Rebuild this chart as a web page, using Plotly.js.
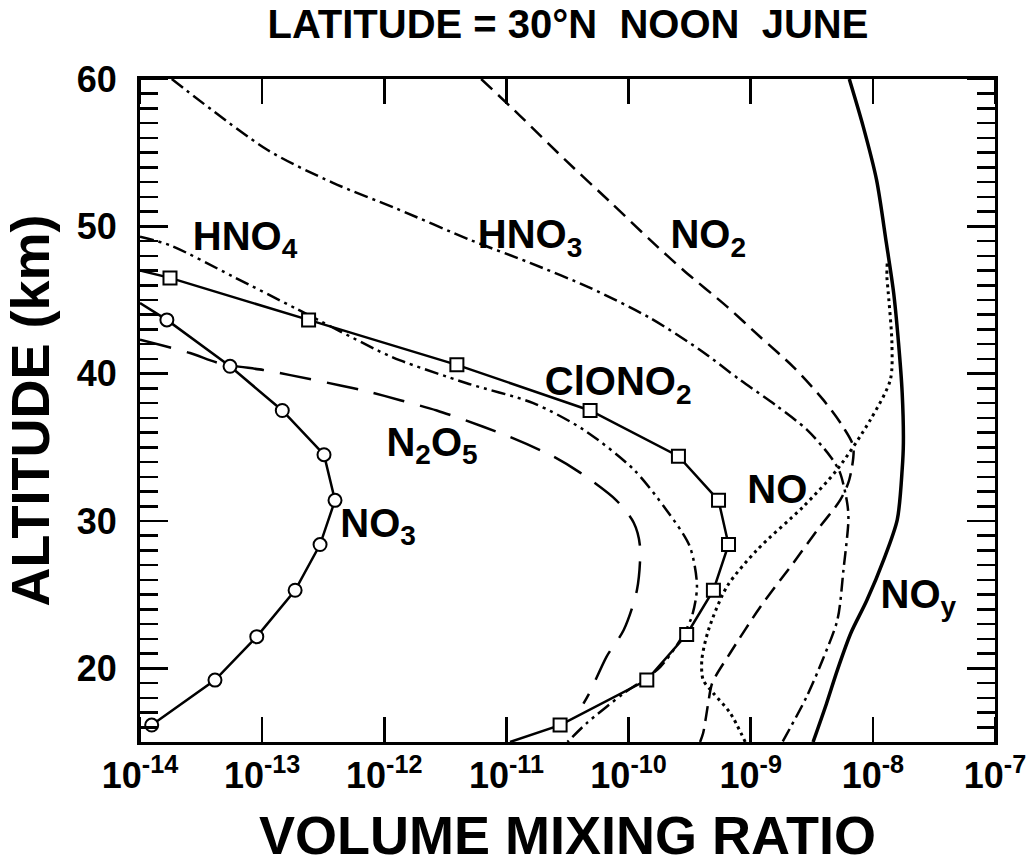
<!DOCTYPE html>
<html>
<head>
<meta charset="utf-8">
<script src="https://cdn.plot.ly/plotly-3.0.1.min.js"></script>
<style>html,body{margin:0;padding:0;background:#fff;}#chart{width:1027px;height:865px;}</style>
</head>
<body>
<div id="chart"></div>
<script>
// ---------- data (altitude km, volume mixing ratio) ----------
const xTickVals = [1e-14, 1e-13, 1e-12, 1e-11, 1e-10, 1e-9, 1e-8, 1e-7];
const xTickText = ['10<sup>-14</sup>','10<sup>-13</sup>','10<sup>-12</sup>','10<sup>-11</sup>','10<sup>-10</sup>','10<sup>-9</sup>','10<sup>-8</sup>','10<sup>-7</sup>'];
const yMajorVals = [20, 30, 40, 50, 60];

const altNOy = [60, 56.8, 53.15, 48.9, 45.5, 42.1, 38.7, 35.3, 33.5, 30.1, 27.4, 24.6, 22.4, 19.9, 17.6, 15.0];
const vmrNOy = [6.41e-9, 8.32e-9, 1.072e-8, 1.288e-8, 1.479e-8, 1.622e-8, 1.738e-8, 1.778e-8, 1.738e-8, 1.585e-8, 1.230e-8, 8.91e-9, 6.61e-9, 5.13e-9, 4.17e-9, 3.24e-9];

const altNO2 = [60, 57.5, 54.51, 51.66, 49.08, 47.04, 44.53, 42.49, 40.46, 38.22, 36.38, 35.03, 32.8, 31.43, 29.39, 27.15, 24.16, 21.04, 19.0, 17.65, 15.61, 15.0];
const vmrNO2 = [6.21e-12, 1.294e-11, 3.03e-11, 7.06e-11, 1.50e-10, 2.80e-10, 6.43e-10, 1.197e-9, 2.23e-9, 3.93e-9, 5.71e-9, 6.92e-9, 6.41e-9, 5.41e-9, 3.51e-9, 2.23e-9, 1.197e-9, 6.79e-10, 4.84e-10, 4.49e-10, 4.08e-10, 3.85e-10];

const altNO = [15.0, 16.97, 18.33, 19.21, 20.57, 22.6, 25.54, 28.03, 30.97, 33.47, 36.86, 39.58, 42.09, 45.48, 46.59, 47.5];
const vmrNO = [9.02e-10, 6.79e-10, 4.93e-10, 4.08e-10, 3.98e-10, 4.51e-10, 6.38e-10, 1.125e-9, 2.69e-9, 5.08e-9, 9.53e-9, 1.39e-8, 1.432e-8, 1.337e-8, 1.303e-8, 1.31e-8];

const altHNO3 = [60, 55.2, 52.95, 51.2, 49.08, 47.52, 45.82, 43.78, 41.61, 39.57, 37.8, 36.2, 34.4, 33.3, 31.2, 30.1, 26.7, 23.3, 20.6, 18.1, 15.0];
const vmrHNO3 = [1.82e-14, 1.10e-13, 3.80e-13, 1.26e-12, 5.05e-12, 1.56e-11, 4.85e-11, 1.50e-10, 3.85e-10, 8.20e-10, 1.64e-9, 2.88e-9, 4.47e-9, 5.37e-9, 6.17e-9, 6.31e-9, 5.75e-9, 5.13e-9, 3.89e-9, 2.88e-9, 1.82e-9];

const altHNO4 = [49.3, 48.7, 46.6, 44.4, 41.4, 40.9, 39.35, 38.0, 36.2, 33.5, 30.75, 28.3, 25.5, 23.1, 20.1, 18.3, 16.3, 15.0];
const vmrHNO4 = [1.0e-14, 1.78e-14, 5.75e-14, 1.91e-13, 9.77e-13, 1.35e-12, 4.73e-12, 1.66e-11, 4.27e-11, 1.10e-10, 2.04e-10, 3.16e-10, 3.63e-10, 3.16e-10, 1.82e-10, 9.12e-11, 4.57e-11, 3.16e-11];

const altN2O5 = [42.3, 41.4, 40.7, 40.25, 39.9, 39.2, 38.8, 38.2, 37.5, 36.4, 35.7, 34.4, 33.3, 31.4, 29.9, 28.3, 25.3, 22.6, 20.8, 18.5, 17.6];
const vmrN2O5 = [1.0e-14, 2.57e-14, 4.52e-14, 1.02e-13, 1.70e-13, 4.37e-13, 7.24e-13, 1.35e-12, 2.69e-12, 6.46e-12, 1.07e-11, 2.40e-11, 3.98e-11, 7.94e-11, 1.10e-10, 1.24e-10, 1.17e-10, 9.12e-11, 6.61e-11, 4.90e-11, 4.27e-11];

// first and last entries are the line ends at the axes (no symbol there)
const altClONO2 = [15.0, 16.15, 19.2, 22.3, 25.3, 28.4, 31.4, 34.4, 37.5, 40.6, 43.65, 46.5, 47.0];
const vmrClONO2 = [1.07e-11, 2.75e-11, 1.41e-10, 2.99e-10, 4.95e-10, 6.58e-10, 5.45e-10, 2.56e-10, 4.84e-11, 3.93e-12, 2.40e-13, 1.76e-14, 1.0e-14];

// last entry is the line end at the left axis (no symbol there)
const altNO3 = [16.15, 19.2, 22.15, 25.3, 28.4, 31.4, 34.5, 37.5, 40.5, 43.65, 44.8];
const vmrNO3 = [1.247e-14, 4.11e-14, 9.04e-14, 1.862e-13, 2.98e-13, 3.95e-13, 3.21e-13, 1.462e-13, 5.46e-14, 1.66e-14, 1.0e-14];

// species labels written inside the plot
const labelText = ['HNO<sub>4</sub>', 'HNO<sub>3</sub>', 'NO<sub>2</sub>', 'ClONO<sub>2</sub>', 'N<sub>2</sub>O<sub>5</sub>', 'NO<sub>3</sub>', 'NO', 'NO<sub>y</sub>'];

// ---------- styling ----------
const FONT = '"Liberation Sans", Arial, Helvetica, sans-serif';
const BLACK = '#000';
const curve = (x, y, dash, w) => ({
  x: x, y: y, type: 'scatter', mode: 'lines', hoverinfo: 'skip',
  line: {color: BLACK, width: w, dash: dash, shape: 'spline', smoothing: 0.8}
});
const poly = (x, y) => ({
  x: x, y: y, type: 'scatter', mode: 'lines', hoverinfo: 'skip', line: {color: BLACK, width: 2.5}
});
const symbols = (x, y, sym) => ({
  x: x, y: y, type: 'scatter', mode: 'markers', hoverinfo: 'skip',
  marker: {symbol: sym, size: 13, color: '#fff', line: {color: BLACK, width: 2}}
});

const traces = [
  curve(vmrNOy, altNOy, 'solid', 3.5),
  curve(vmrNO2, altNO2, '15px,8px', 2.5),
  curve(vmrNO, altNO, '3px,4px', 3),
  curve(vmrHNO3, altHNO3, '14px,5px,3px,5px', 2.5),
  curve(vmrHNO4, altHNO4, '14px,5px,3px,5px,3px,5px', 2.5),
  curve(vmrN2O5, altN2O5, '32px,16px', 2.5),
  poly(vmrClONO2, altClONO2),
  poly(vmrNO3, altNO3),
  symbols(vmrClONO2.slice(1, -1), altClONO2.slice(1, -1), 'square'),
  symbols(vmrNO3.slice(0, -1), altNO3.slice(0, -1), 'circle'),
  {
    type: 'scatter', mode: 'text', hoverinfo: 'skip', cliponaxis: false,
    x: [7.24e-14, 1.56e-11, 4.49e-10, 8.22e-11, 2.46e-12, 8.89e-13, 1.65e-9, 2.36e-8],
    y: [49.1, 49.2, 49.2, 39.2, 35.1, 29.6, 31.9, 24.8],
    text: labelText, textposition: 'middle center',
    textfont: {family: FONT, size: 40, color: BLACK, weight: 'bold'}
  },
  // empty trace that only carries the overlay axes used for the long tick marks
  {type: 'scatter', mode: 'lines', x: [], y: [], xaxis: 'x2', yaxis: 'y2', hoverinfo: 'skip', showlegend: false}
];

const frame = {showline: true, linewidth: 3, linecolor: BLACK, mirror: 'ticks', showgrid: false, zeroline: false};

const layout = {
  width: 1027, height: 865,
  margin: {l: 140, r: 32, t: 79, b: 123},
  paper_bgcolor: '#fff', plot_bgcolor: '#fff',
  showlegend: false,
  title: {text: 'LATITUDE = 30°N  NOON  JUNE', x: 0.553, xref: 'container', xanchor: 'center',
          y: 0.972, yref: 'container', yanchor: 'middle',
          font: {family: FONT, size: 40, color: BLACK, weight: 'bold'}},
  xaxis: Object.assign({
    type: 'log', range: [-14, -7], tickmode: 'array', tickvals: xTickVals, ticktext: xTickText,
    ticks: 'inside', ticklen: 25, tickwidth: 2.5, tickcolor: BLACK,
    tickfont: {family: FONT, size: 36, color: BLACK, weight: 'bold'},
    title: {text: 'VOLUME MIXING RATIO', standoff: 32, font: {family: FONT, size: 54, color: BLACK, weight: 'bold'}}
  }, frame),
  yaxis: Object.assign({
    range: [15, 60], tickmode: 'linear', tick0: 0, dtick: 10,
    ticks: 'inside', ticklen: 28, tickwidth: 2.5, tickcolor: BLACK,
    minor: {dtick: 1, tick0: 0, ticks: 'inside', ticklen: 18, tickwidth: 2.5, tickcolor: BLACK, showgrid: false},
    ticklabelstandoff: 13,
    tickfont: {family: FONT, size: 36, color: BLACK, weight: 'bold'},
    title: {text: 'ALTITUDE (km)', standoff: 10, font: {family: FONT, size: 54, color: BLACK, weight: 'bold'}}
  }, frame),
  // overlay axes: same scales, no labels, they draw the long (decade / 10 km) tick marks
  xaxis2: Object.assign({
    overlaying: 'x', anchor: 'y2', side: 'bottom', type: 'log', range: [-14, -7],
    tickmode: 'array', tickvals: [], ticks: '', showticklabels: false,
    minor: {tickmode: 'array', tickvals: xTickVals, ticks: 'inside', ticklen: 25, tickwidth: 2.5, tickcolor: BLACK, showgrid: false}
  }, frame),
  yaxis2: Object.assign({
    overlaying: 'y', anchor: 'x2', side: 'left', range: [15, 60],
    tickmode: 'array', tickvals: [], ticks: '', showticklabels: false,
    minor: {tickmode: 'array', tickvals: yMajorVals, ticks: 'inside', ticklen: 28, tickwidth: 2.5, tickcolor: BLACK, showgrid: false}
  }, frame)
};

Plotly.newPlot('chart', traces, layout, {staticPlot: true, displayModeBar: false});
</script>
</body>
</html>
